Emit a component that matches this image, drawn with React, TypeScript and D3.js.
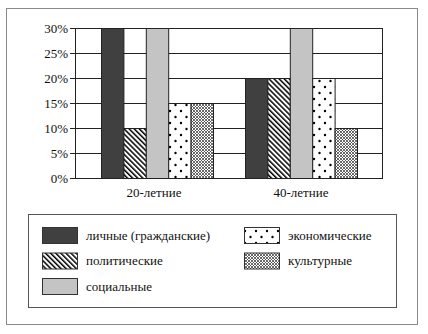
import React from "react";
import * as d3 from "d3";

const groups = ["20-летние", "40-летние"];
const seriesNames = ["личные (гражданские)", "политические", "социальные", "экономические", "культурные"];
const values20 = [30, 10, 30, 15, 15];
const values40 = [20, 20, 30, 20, 10];
const yTicks = [0, 5, 10, 15, 20, 25, 30];

const fills = ["#404040", "url(#hatch)", "#c4c4c4", "url(#dots)", "url(#cross)"];

export default function App() {
  const W = 428, H = 334;
  const left = 75, right = 382, top = 28, bottom = 178;
  const y = d3.scaleLinear().domain([0, 30]).range([bottom, top]);
  const x0 = d3.scaleBand<string>().domain(groups).range([85, 373]).paddingInner(32 / 144).paddingOuter(16 / 144);
  const x1 = d3.scaleBand<string>().domain(seriesNames).range([0, x0.bandwidth()]);
  const data = [values20, values40];
  const font = "Liberation Serif";

  const legendItems = [
    { i: 0, col: 0, row: 0 },
    { i: 1, col: 0, row: 1 },
    { i: 2, col: 0, row: 2 },
    { i: 3, col: 1, row: 0 },
    { i: 4, col: 1, row: 1 },
  ];

  return (
    <svg width={W} height={H} style={{ position: "absolute", left: 0, top: 0, background: "#fff" }}>
      <defs>
        <pattern id="hatch" patternUnits="userSpaceOnUse" width={3.6} height={3.6} patternTransform="rotate(-45)">
          <rect width={3.6} height={3.6} fill="#fff" />
          <rect width={1.5} height={3.6} fill="#000" />
        </pattern>
        <pattern id="dots" patternUnits="userSpaceOnUse" width={11} height={12}>
          <rect width={11} height={12} fill="#fff" />
          <circle cx={3} cy={3} r={1.2} fill="#000" />
          <circle cx={8.5} cy={9} r={1.2} fill="#000" />
        </pattern>
        <pattern id="cross" patternUnits="userSpaceOnUse" width={3} height={3}>
          <rect width={3} height={3} fill="#fff" />
          <path d="M0,0 L3,3 M3,0 L0,3" stroke="#444" strokeWidth={0.8} />
        </pattern>
      </defs>
      <rect x={6.5} y={8.5} width={411} height={316} fill="#fff" stroke="#8a8a8a" strokeWidth={1} />
      {yTicks.map((t) => (
        <g key={t}>
          <line x1={left - 5} x2={right} y1={Math.round(y(t)) + 0.5} y2={Math.round(y(t)) + 0.5} stroke="#222" strokeWidth={1} />
          <text x={68} y={y(t)} dy="0.35em" textAnchor="end" fontFamily={font} fontSize={13} fill="#111">
            {t}%
          </text>
        </g>
      ))}
      <line x1={left + 0.5} x2={left + 0.5} y1={top} y2={bottom + 1} stroke="#222" />
      <line x1={right + 0.5} x2={right + 0.5} y1={top} y2={bottom + 1} stroke="#222" />
      {groups.map((g, gi) => (
        <g key={g} transform={`translate(${x0(g)},0)`}>
          {seriesNames.map((s, si) => (
            <rect
              key={s}
              x={x1(s)! + 0.5}
              y={y(data[gi][si]) + 0.5}
              width={x1.bandwidth()}
              height={bottom - y(data[gi][si])}
              fill={fills[si]}
              stroke="#222"
              strokeWidth={1}
            />
          ))}
          <text x={x0.bandwidth() / 2 - (gi === 0 ? 3 : 0)} y={197} textAnchor="middle" fontFamily={font} fontSize={13} fill="#111">
            {g}
          </text>
        </g>
      ))}
      <rect x={28.5} y={214.5} width={368} height={93} fill="#fff" stroke="#555" strokeWidth={1} />
      {legendItems.map(({ i, col, row }) => {
        const sx = col === 0 ? 42 : 244;
        const sy = 227 + row * 25.5;
        return (
          <g key={i}>
            <rect x={sx + 0.5} y={sy + 0.5} width={35} height={16} fill={fills[i]} stroke="#333" strokeWidth={1} />
            <text x={sx + 44} y={sy + 8} dy="0.35em" fontFamily={font} fontSize={13} fill="#111">
              {seriesNames[i]}
            </text>
          </g>
        );
      })}
    </svg>
  );
}
